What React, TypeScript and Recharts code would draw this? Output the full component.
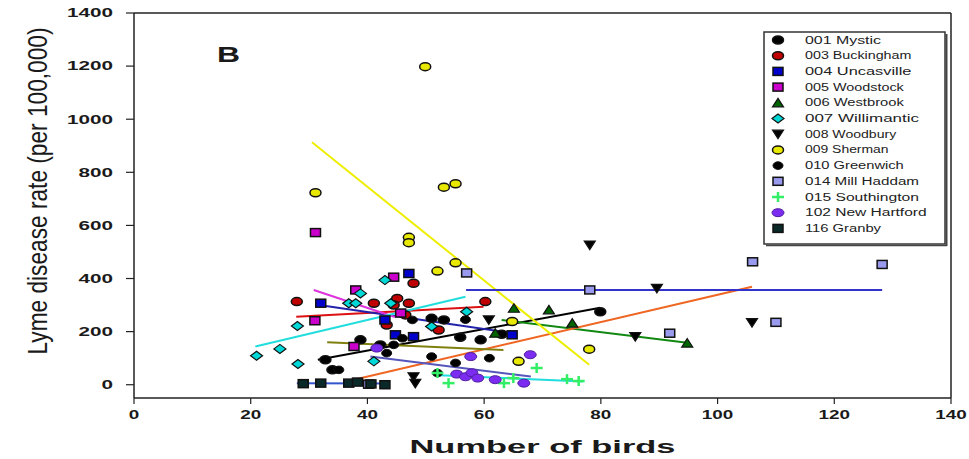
import React from 'react';
import { ScatterChart, Scatter, XAxis, YAxis, ReferenceLine, Legend, Label } from 'recharts';

const xTicks = [0, 20, 40, 60, 80, 100, 120, 140];
const yTicks = [0, 200, 400, 600, 800, 1000, 1200, 1400];

// points (x = number of birds, y = rate per 100,000)
const mystic = [
  { x: 32.8, y: 94 }, { x: 34, y: 56 }, { x: 38.8, y: 169 }, { x: 42.2, y: 150 }, { x: 51, y: 250 },
  { x: 53.1, y: 244 }, { x: 55.9, y: 179 }, { x: 59.4, y: 169 }, { x: 63, y: 190 }, { x: 79.9, y: 275 },
];
const buckingham = [
  { x: 27.9, y: 313 }, { x: 41.1, y: 307 }, { x: 43.3, y: 225 }, { x: 45.1, y: 325 }, { x: 44.5, y: 300 },
  { x: 46.5, y: 263 }, { x: 47.1, y: 307 }, { x: 47.9, y: 382 }, { x: 52.2, y: 206 }, { x: 60.2, y: 313 },
];
const uncasville = [
  { x: 32, y: 307 }, { x: 43, y: 244 }, { x: 44.8, y: 188 }, { x: 47.1, y: 419 }, { x: 47.9, y: 181 }, { x: 64.8, y: 188 },
];
const woodstock = [
  { x: 31, y: 241 }, { x: 31.1, y: 573 }, { x: 37.7, y: 144 }, { x: 38, y: 357 }, { x: 44.5, y: 405 }, { x: 45.7, y: 270 },
];
const westbrook = [
  { x: 61.9, y: 194 }, { x: 65.1, y: 288 }, { x: 71.1, y: 282 }, { x: 75.1, y: 232 }, { x: 94.8, y: 157 },
];
const willimantic = [
  { x: 21, y: 109 }, { x: 25, y: 135 }, { x: 28, y: 221 }, { x: 28.1, y: 78 }, { x: 36.8, y: 307 }, { x: 38, y: 307 },
  { x: 38.8, y: 344 }, { x: 41.1, y: 88 }, { x: 43, y: 394 }, { x: 44, y: 307 }, { x: 51, y: 219 }, { x: 57, y: 275 },
];
const woodbury = [
  { x: 47.9, y: 30 }, { x: 48.2, y: 5 }, { x: 60.8, y: 244 }, { x: 78.1, y: 526 }, { x: 85.9, y: 181 },
  { x: 89.6, y: 363 }, { x: 105.9, y: 234 },
];
const sherman = [
  { x: 31.1, y: 723 }, { x: 47.1, y: 555 }, { x: 47.1, y: 535 }, { x: 49.9, y: 1198 }, { x: 52, y: 428 }, { x: 53.1, y: 744 },
  { x: 55.1, y: 757 }, { x: 55.1, y: 459 }, { x: 64.8, y: 238 }, { x: 65.9, y: 88 }, { x: 78, y: 134 },
];
const greenwich = [
  { x: 35.1, y: 56 }, { x: 43.3, y: 119 }, { x: 44.5, y: 150 }, { x: 46, y: 175 }, { x: 47.7, y: 244 },
  { x: 51, y: 106 }, { x: 52, y: 44 }, { x: 55.1, y: 82 }, { x: 56.8, y: 245 }, { x: 60.9, y: 100 },
];
const millHaddam = [
  { x: 40.2, y: 2 }, { x: 57, y: 421 }, { x: 78.1, y: 357 }, { x: 91.8, y: 194 }, { x: 106, y: 463 },
  { x: 110, y: 235 }, { x: 128.2, y: 453 },
];
const southington = [
  { x: 52, y: 44 }, { x: 53.9, y: 6 }, { x: 63.4, y: 6 }, { x: 65, y: 25 }, { x: 69, y: 63 }, { x: 74.2, y: 21 }, { x: 76.2, y: 14 },
];
const newHartford = [
  { x: 41.6, y: 138 }, { x: 55.3, y: 40 }, { x: 56.8, y: 30 }, { x: 57.9, y: 45 }, { x: 57.7, y: 106 },
  { x: 58.9, y: 25 }, { x: 61.9, y: 19 }, { x: 66.8, y: 6 }, { x: 67.9, y: 113 },
];
const granby = [
  { x: 29, y: 4 }, { x: 32, y: 6 }, { x: 36.8, y: 6 }, { x: 38.3, y: 10 }, { x: 40.6, y: 3 }, { x: 43, y: 0 },
];

// regression line end points
const mysticFit = [{ x: 31.5, y: 94 }, { x: 79.9, y: 290 }];
const buckinghamFit = [{ x: 27.8, y: 256 }, { x: 59.9, y: 294 }];
const uncasvilleFit = [{ x: 31.7, y: 300 }, { x: 65.1, y: 194 }];
const woodstockFit = [{ x: 30.8, y: 357 }, { x: 44.7, y: 255 }];
const westbrookFit = [{ x: 63, y: 244 }, { x: 94.8, y: 158 }];
const willimanticFit = [{ x: 20.8, y: 144 }, { x: 56.8, y: 331 }];
const woodburyFit = [{ x: 36.2, y: 11 }, { x: 105.9, y: 369 }];
const shermanFit = [{ x: 30.5, y: 913 }, { x: 78, y: 75 }];
const greenwichFit = [{ x: 33.1, y: 160 }, { x: 63.3, y: 131 }];
const millHaddamFit = [{ x: 56.9, y: 357 }, { x: 128.2, y: 357 }];
const southingtonFit = [{ x: 51.3, y: 37 }, { x: 77, y: 12 }];
const newHartfordFit = [{ x: 40.5, y: 106 }, { x: 68, y: 31 }];
const granbyFit = [{ x: 27.9, y: 6 }, { x: 43.6, y: 5 }];

type Kind = 'circle' | 'dot' | 'square' | 'triUp' | 'triDown' | 'diamond' | 'cross' | 'oval';

const series: { name: string; data: any[]; fit: any[]; fill: string; line: string; kind: Kind }[] = [
  { name: '001 Mystic', data: mystic, fit: mysticFit, fill: '#000', line: '#000', kind: 'circle' },
  { name: '003 Buckingham', data: buckingham, fit: buckinghamFit, fill: '#c00000', line: '#dd1111', kind: 'circle' },
  { name: '004 Uncasville', data: uncasville, fit: uncasvilleFit, fill: '#0000cc', line: '#2222aa', kind: 'square' },
  { name: '005 Woodstock', data: woodstock, fit: woodstockFit, fill: '#cc00cc', line: '#dd33dd', kind: 'square' },
  { name: '006 Westbrook', data: westbrook, fit: westbrookFit, fill: '#006400', line: '#118811', kind: 'triUp' },
  { name: '007 Willimantic', data: willimantic, fit: willimanticFit, fill: '#00d8d8', line: '#22dddd', kind: 'diamond' },
  { name: '008 Woodbury', data: woodbury, fit: woodburyFit, fill: '#000', line: '#ee6622', kind: 'triDown' },
  { name: '009 Sherman', data: sherman, fit: shermanFit, fill: '#e8e800', line: '#eeee00', kind: 'circle' },
  { name: '010 Greenwich', data: greenwich, fit: greenwichFit, fill: '#000', line: '#808010', kind: 'dot' },
  { name: '014 Mill Haddam', data: millHaddam, fit: millHaddamFit, fill: '#9999ee', line: '#3333cc', kind: 'square' },
  { name: '015 Southington', data: southington, fit: southingtonFit, fill: '#33ee66', line: '#22dddd', kind: 'cross' },
  { name: '102 New Hartford', data: newHartford, fit: newHartfordFit, fill: '#7b2cf0', line: '#5555bb', kind: 'oval' },
  { name: '116 Granby', data: granby, fit: granbyFit, fill: '#0a2a2a', line: '#3355cc', kind: 'square' },
];

const FONT = '"Liberation Sans", Arial, sans-serif';
const INK = '#1a1a1a';

const Marker = ({ cx, cy, kind, fill }: { cx?: number; cy?: number; kind: Kind; fill: string }) => {
  if (cx == null || cy == null) return null;
  switch (kind) {
    case 'circle':
      return <ellipse cx={cx} cy={cy} rx={5.5} ry={4} fill={fill} stroke="#111" strokeWidth={1.5} />;
    case 'dot':
      return <ellipse cx={cx} cy={cy} rx={5} ry={3.8} fill={fill} stroke="#111" strokeWidth={1} />;
    case 'square':
      return <rect x={cx - 5} y={cy - 4} width={10} height={8} fill={fill} stroke="#111" strokeWidth={1.5} />;
    case 'triUp':
      return <polygon points={`${cx - 5.5},${cy + 4} ${cx + 5.5},${cy + 4} ${cx},${cy - 4.5}`} fill={fill} stroke="#111" strokeWidth={1.2} />;
    case 'triDown':
      return <polygon points={`${cx - 5.5},${cy - 4} ${cx + 5.5},${cy - 4} ${cx},${cy + 4.5}`} fill={fill} stroke="#111" strokeWidth={1.2} />;
    case 'diamond':
      return <polygon points={`${cx - 6},${cy} ${cx},${cy - 4.5} ${cx + 6},${cy} ${cx},${cy + 4.5}`} fill={fill} stroke="#111" strokeWidth={1.2} />;
    case 'cross':
      return (
        <g stroke={fill} strokeWidth={2.5}>
          <line x1={cx - 6} y1={cy} x2={cx + 6} y2={cy} />
          <line x1={cx} y1={cy - 5} x2={cx} y2={cy + 5} />
        </g>
      );
    case 'oval':
      return <ellipse cx={cx} cy={cy} rx={6} ry={4} fill={fill} stroke="#5020a0" strokeWidth={1} />;
  }
  return null;
};

const XTick = (props: any) => {
  const { x, y, payload } = props;
  const s = String(payload.value);
  return (
    <text x={x} y={y} dy="0.71em" textAnchor="middle" fontSize={12.5} fontWeight="bold" fontFamily={FONT} fill={INK}
      textLength={s.length * 10.5} lengthAdjust="spacingAndGlyphs">{s}</text>
  );
};

const YTick = (props: any) => {
  const { x, y, payload } = props;
  const s = String(payload.value);
  return (
    <text x={x} y={y} dy="0.35em" textAnchor="end" fontSize={12.5} fontWeight="bold" fontFamily={FONT} fill={INK}
      textLength={s.length * 11.5} lengthAdjust="spacingAndGlyphs">{s}</text>
  );
};

const XTitle = (props: any) => {
  const vb = props.viewBox || { x: 134, y: 398, width: 817, height: 61 };
  return (
    <text x={vb.x + vb.width / 2} y={vb.y + 55} textAnchor="middle" fontSize={18} fontWeight="bold" fontFamily={FONT}
      fill={INK} textLength={266} lengthAdjust="spacingAndGlyphs">Number of birds</text>
  );
};

const YTitle = (props: any) => {
  const vb = props.viewBox || { x: 0, y: 13, width: 134, height: 385 };
  const cx = vb.x + 37;
  const cy = vb.y + 178;
  return (
    <text transform={`translate(${cx},${cy}) scale(1.6,1) rotate(-90)`} textAnchor="middle" dy="0.35em" fontSize={17}
      fontFamily={FONT} fill={INK} textLength={327} lengthAdjust="spacingAndGlyphs">Lyme disease rate (per 100,000)</text>
  );
};

const LegendBox = () => (
  <svg width={186} height={218} style={{ display: 'block' }}>
    <rect x={1} y={1} width={181} height={212} fill="#fff" stroke="#333" strokeWidth={1.5} />
    <line x1={183.5} y1={3} x2={183.5} y2={215} stroke="#444" strokeWidth={2} />
    <line x1={3} y1={214.5} x2={184} y2={214.5} stroke="#444" strokeWidth={1.5} />
    {series.map((s, i) => {
      const cy = 9 + i * 15.7;
      return (
        <g key={s.name}>
          <Marker cx={15} cy={cy} kind={s.kind} fill={s.fill} />
          <text x={42} y={cy} dy="0.35em" fontSize={10} fontFamily={FONT} fill="#222"
            textLength={s.name.length * 7.6} lengthAdjust="spacingAndGlyphs">{s.name}</text>
        </g>
      );
    })}
  </svg>
);

export default function App() {
  return (
    <div style={{ position: 'absolute', left: 0, top: 0, width: 969, height: 459, background: '#fff' }}>
      <ScatterChart width={969} height={459} margin={{ top: 13, right: 18, bottom: 0, left: 0 }}>
        <XAxis type="number" dataKey="x" domain={[0, 140]} ticks={xTicks} allowDataOverflow height={61}
          axisLine={{ stroke: '#222', strokeWidth: 1.5 }} tickLine={{ stroke: '#222', strokeWidth: 1.2 }}
          tickSize={6} tickMargin={6} tick={<XTick />}>
          <Label content={<XTitle />} />
        </XAxis>
        <YAxis type="number" dataKey="y" domain={[-50, 1400]} ticks={yTicks} allowDataOverflow width={134}
          axisLine={{ stroke: '#222', strokeWidth: 1.5 }} tickLine={{ stroke: '#222', strokeWidth: 1.2 }}
          tickSize={8} tickMargin={13} tick={<YTick />}>
          <Label content={<YTitle />} />
        </YAxis>
        <ReferenceLine y={1400} stroke="#222" strokeWidth={1.5} />
        <ReferenceLine x={140} stroke="#222" strokeWidth={1.5} />
        {series.map((s) => (
          <ReferenceLine key={s.name + '-fit'} segment={s.fit} stroke={s.line} strokeWidth={2} />
        ))}
        {series.map((s) => (
          <Scatter key={s.name} name={s.name} data={s.data} isAnimationActive={false}
            shape={(p: any) => <Marker cx={p.cx} cy={p.cy} kind={s.kind} fill={s.fill} />} />
        ))}
        <Legend layout="vertical" align="center" verticalAlign="middle" width={186} height={218}
          wrapperStyle={{ left: 763, top: 31, width: 186, height: 218 }} content={() => <LegendBox />} />
      </ScatterChart>
      <div style={{ position: 'absolute', left: 217, top: 44, fontFamily: FONT, fontWeight: 'bold', fontSize: 22,
        lineHeight: '22px', color: INK, transform: 'scaleX(1.45)', transformOrigin: 'left top' }}>B</div>
    </div>
  );
}
